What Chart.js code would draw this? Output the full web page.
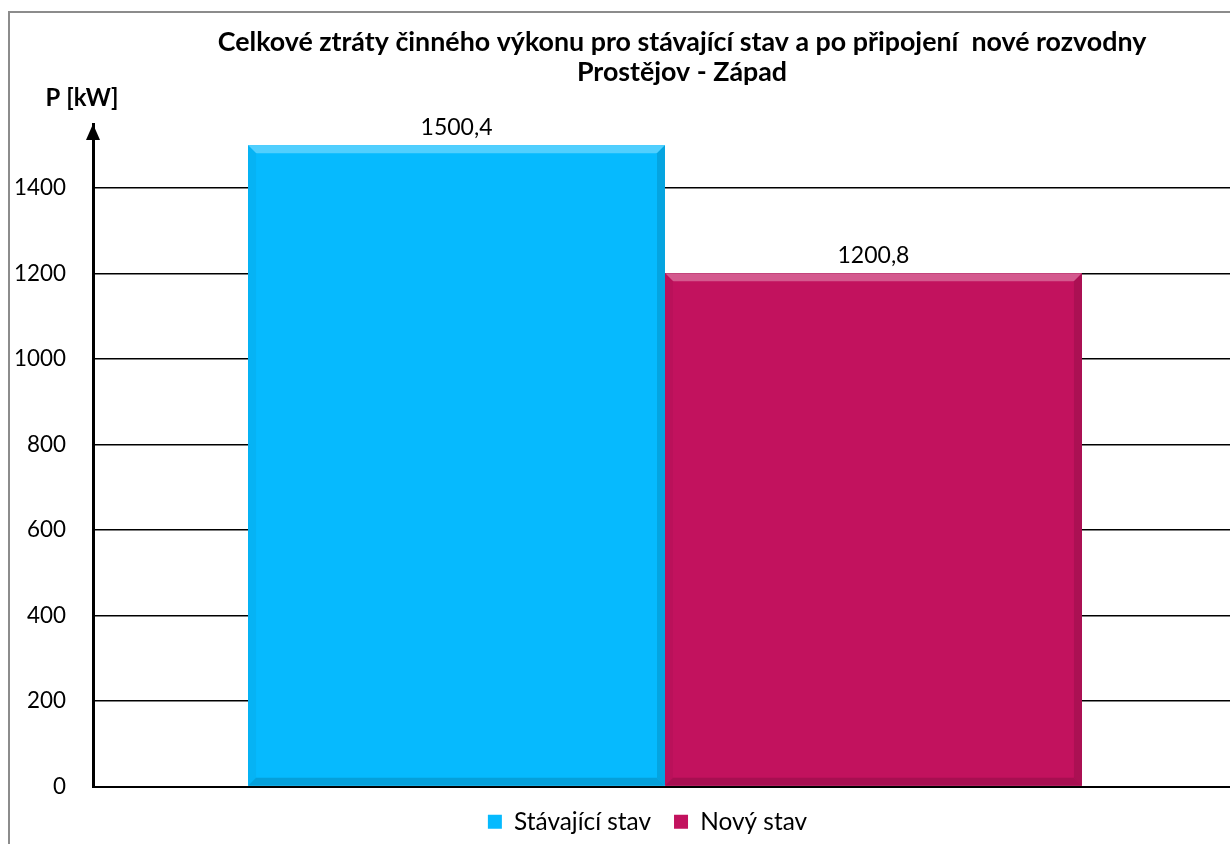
<!DOCTYPE html>
<html>
<head>
<meta charset="utf-8">
<script src="https://cdn.jsdelivr.net/npm/chart.js@4.4.0/dist/chart.umd.min.js"></script>
<style>
  html, body { margin: 0; padding: 0; background: #fff; overflow: hidden; }
  #wrap { width: 1240px; height: 844px; }
</style>
</head>
<body>
<div id="wrap"><canvas id="chart" width="1240" height="844"></canvas></div>
<script>
const categories = [""];
const seriesNames = ["Stávající stav", "Nový stav"];
const seriesValues = [[1500.4], [1200.8]];
const seriesColors = ["#06BAFE", "#C2125E"];
const yTicks = [0, 200, 400, 600, 800, 1000, 1200, 1400];
const titleLines = [
  "Celkové ztráty činného výkonu pro stávající stav a po připojení  nové rozvodny",
  "Prostějov - Západ",
];
const yAxisTitle = "P [kW]";

// pick a Lato size that gives the same text width as the original
const measureCtx = document.createElement("canvas").getContext("2d");
function fitSize(text, weight, width) {
  measureCtx.font = `${weight} 100px Lato`;
  return Math.round((width / measureCtx.measureText(text).width) * 1000) / 10;
}
const tickSize = fitSize("1400", "normal", 52);
const valueSize = fitSize("1500,4", "normal", 72);
const legendSize = fitSize("Stávající stav", "normal", 137);
const titleSize = fitSize(titleLines[0], "bold", 929);
const axisTitleSize = fitSize(yAxisTitle, "bold", 73);

function shade(hex, amt) {
  const n = parseInt(hex.slice(1), 16);
  let r = (n >> 16) & 255, g = (n >> 8) & 255, b = n & 255;
  if (amt > 0) {
    r += (255 - r) * amt; g += (255 - g) * amt; b += (255 - b) * amt;
  } else {
    r *= 1 + amt; g *= 1 + amt; b *= 1 + amt;
  }
  return `rgb(${Math.round(r)}, ${Math.round(g)}, ${Math.round(b)})`;
}

// frame, titles, arrow, bevels and value labels
const decorations = {
  id: "decorations",
  afterLayout(chart) {
    // legend sits a bit right of the canvas centre in the original
    chart.legend.left += 29;
    chart.legend.right += 29;
  },
  beforeDraw(chart) {
    const ctx = chart.ctx;
    ctx.save();
    ctx.strokeStyle = "#8c8c8c";
    ctx.lineWidth = 2;
    ctx.beginPath();
    ctx.moveTo(9, 844);
    ctx.lineTo(9, 12);
    ctx.lineTo(1240, 12);
    ctx.stroke();
    ctx.restore();
  },
  afterDatasetsDraw(chart) {
    const ctx = chart.ctx;
    ctx.save();
    chart.data.datasets.forEach((ds, i) => {
      chart.getDatasetMeta(i).data.forEach((bar, j) => {
        const l = bar.x - bar.width / 2, r = bar.x + bar.width / 2;
        const t = bar.y, b = bar.base, d = 8;
        const c = ds.backgroundColor;
        const poly = (pts, fill) => {
          ctx.fillStyle = fill;
          ctx.beginPath();
          ctx.moveTo(pts[0][0], pts[0][1]);
          pts.slice(1).forEach((p) => ctx.lineTo(p[0], p[1]));
          ctx.closePath();
          ctx.fill();
        };
        poly([[l, t], [r, t], [r - d, t + d], [l + d, t + d]], shade(c, 0.3));
        poly([[l, t], [l + d, t + d], [l + d, b - d], [l, b]], shade(c, -0.04));
        poly([[r, t], [r, b], [r - d, b - d], [r - d, t + d]], shade(c, -0.12));
        poly([[l, b], [l + d, b - d], [r - d, b - d], [r, b]], shade(c, -0.14));

        const v = ds.data[j];
        ctx.fillStyle = "#000";
        ctx.font = `${valueSize}px Lato`;
        ctx.textAlign = "center";
        ctx.textBaseline = "middle";
        ctx.fillText(String(v).replace(".", ","), bar.x, t - 18);
      });
    });
    ctx.restore();
  },
  afterDraw(chart) {
    const ctx = chart.ctx;
    const area = chart.chartArea;
    const x = chart.scales.y.right;
    ctx.save();
    ctx.fillStyle = "#000";
    ctx.beginPath();
    ctx.moveTo(x, area.top);
    ctx.lineTo(x - 7, area.top + 16);
    ctx.lineTo(x + 7, area.top + 16);
    ctx.closePath();
    ctx.fill();

    ctx.font = `bold ${titleSize}px Lato`;
    ctx.textAlign = "center";
    ctx.textBaseline = "middle";
    ctx.fillText(titleLines[0], 682, 42);
    ctx.fillText(titleLines[1], 682, 72);

    ctx.font = `bold ${axisTitleSize}px Lato`;
    ctx.fillText(yAxisTitle, 82, 98);
    ctx.restore();
  },
};

const ctx = document.getElementById("chart").getContext("2d");
const myChart = new Chart(ctx, {
  type: "bar",
  data: {
    labels: categories,
    datasets: seriesNames.map((name, i) => ({
      label: name,
      data: seriesValues[i],
      backgroundColor: seriesColors[i],
      borderWidth: 0,
      categoryPercentage: 0.729,
      barPercentage: 1,
    })),
  },
  options: {
    responsive: false,
    animation: false,
    events: [],
    layout: { padding: { top: 124, right: 3, left: 0, bottom: 0 } },
    plugins: {
      title: { display: false },
      tooltip: { enabled: false },
      legend: {
        position: "bottom",
        labels: {
          color: "#000",
          font: { family: "Lato", size: legendSize },
          boxWidth: 14,
          boxHeight: 14,
          padding: Math.round(47 - legendSize),
        },
      },
    },
    scales: {
      x: {
        ticks: { display: false },
        grid: { display: false, drawTicks: false },
        border: { display: true, color: "#000", width: 2 },
        afterFit: (s) => { s.height = 0; },
      },
      y: {
        min: 0,
        max: 1550,
        afterBuildTicks: (s) => {
          s.ticks = yTicks.map((v) => ({ value: v }));
        },
        afterFit: (s) => { s.width = 93; },
        ticks: {
          color: "#000",
          font: { family: "Lato", size: tickSize },
          padding: 27,
          callback: (v) => String(v),
        },
        grid: { color: "#000", lineWidth: 1.5, drawTicks: false },
        border: { display: true, color: "#000", width: 3 },
      },
    },
  },
  plugins: [decorations],
});
</script>
</body>
</html>
